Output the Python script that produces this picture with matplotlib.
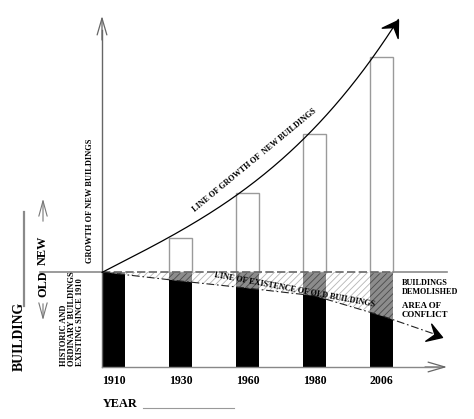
import numpy as np
import matplotlib
matplotlib.use('Agg')
import matplotlib.pyplot as plt
from matplotlib.patches import FancyArrowPatch
from matplotlib.path import Path
from matplotlib.markers import MarkerStyle
from matplotlib.transforms import Affine2D

# values (old stock = 100 units below the zero line)
years = ['1910', '1930', '1960', '1980', '2006']
new_buildings = [0, 36, 83, 145, 226]
demolished = [0, 9.5, 17, 25, 46]
old_total = 100

# points on the "line of growth" and end of the "line of existence"
growth_x = [-0.17, 0.84, 1.84, 2.83, 3.83, 4.25]
growth_y = [0, 36, 81, 142, 218, 268]
exist_start = (-0.17, 0)
exist_end = (4.9, -68)

plt.rcParams['font.family'] = ['Liberation Serif', 'DejaVu Serif']
plt.rcParams['hatch.linewidth'] = 0.6

W, H = 474, 419
fig = plt.figure(figsize=(4.74, 4.19), dpi=100)
ax = fig.add_axes([0, 0, 1, 1])
ax.axis('off')

# pixel -> data mapping, only used for layout
X0, DX, Y0, SY = 113.5, 67.0, 272.0, 0.95
ax.set_xlim(-X0 / DX, (W - X0) / DX)
ax.set_ylim((Y0 - H) / SY, Y0 / SY)


def P(xp, yp):
    return (xp - X0) / DX, (Y0 - yp) / SY


# barbed black arrowhead, tip at the origin
barb = Path([(0, 0), (-1.0, 0.62), (-0.55, 0), (-1.0, -0.62), (0, 0)],
            [Path.MOVETO, Path.LINETO, Path.LINETO, Path.LINETO, Path.CLOSEPOLY])


def head(x0, y0, x1, y1, size=22):
    a, b = ax.transData.transform([(x0, y0), (x1, y1)])
    ang = np.degrees(np.arctan2(b[1] - a[1], b[0] - a[0]))
    m = MarkerStyle(barb, transform=Affine2D().rotate_deg(ang))
    ax.plot([x1], [y1], marker=m, markersize=size, color='black', zorder=6)


pos = np.arange(len(years))
bw = 0.343
grey = '#8a8a8a'

# line of existence of old buildings
line_x = np.r_[exist_start[0], pos[1:], exist_end[0]]
line_y = np.r_[exist_start[1], -np.array(demolished[1:]), exist_end[1]]

# area of conflict (light hatch between bars)
xs = np.r_[line_x[:-1], pos[-1] + bw / 2]
ys = np.interp(xs, line_x, line_y)
ax.fill(np.r_[xs, xs[::-1]], np.r_[ys, np.zeros_like(ys)], facecolor='white',
        edgecolor='#b5b5b5', hatch='/////', lw=0, zorder=1)

# old buildings: black remaining part, dark hatched demolished part
for p in pos:
    bx = np.array([p - bw / 2, p, p + bw / 2])
    by = np.interp(bx, line_x, line_y)
    ax.fill(np.r_[bx, bx[::-1]], np.r_[by, np.zeros(3)], facecolor='#8c8c8c',
            edgecolor='#4a4a4a', hatch='/////', lw=0, zorder=2)
    ax.fill(np.r_[bx, bx[::-1]], np.r_[by, np.full(3, -old_total)],
            color='black', lw=0, zorder=2)

# new buildings
ax.bar(pos[1:], new_buildings[1:], bw, color='white', edgecolor='#9a9a9a',
       lw=1, zorder=2)

# zero line: solid outside, dashed over the bars
xl = P(40, 0)[0]
xr = P(447, 0)[0]
xa = P(102, 0)[0]
xb = pos[-1] + bw / 2
ax.plot([xl, xa], [0, 0], color=grey, lw=1.2, zorder=3)
ax.plot([xb, xr], [0, 0], color=grey, lw=1.2, zorder=3)
ax.plot([xa, xb], [0, 0], color='#666666', lw=1.2, dashes=(5, 2), zorder=3)

ax.plot(line_x, line_y, color='#222222', lw=0.8, ls=(0, (7, 2.5, 1.5, 2.5)), zorder=4)
head(line_x[-2], line_y[-2], line_x[-1], line_y[-1], size=21)

# line of growth of new buildings
coef = np.polyfit(growth_x, growth_y, 3)
gx = np.linspace(growth_x[0], growth_x[-1], 200)
gy = np.polyval(coef, gx)
ax.plot(gx, gy, color='black', lw=0.9, zorder=4)
head(gx[-6], gy[-6], gx[-1], gy[-1], size=22)

# axes with open arrowheads
open_head = '->,head_length=1.2,head_width=0.35'
yb = -old_total
ax.plot([xa, xa], [yb, P(0, 30)[1]], color='#666666', lw=1, zorder=3)
ax.add_patch(FancyArrowPatch(P(102, 40), P(102, 16), arrowstyle=open_head,
                             mutation_scale=10, color='#666666', lw=0.9,
                             shrinkA=0, shrinkB=0))
ax.plot([xa, P(440, 0)[0]], [yb, yb], color='#888888', lw=1, zorder=3)
ax.add_patch(FancyArrowPatch(P(425, 367), P(447, 367), arrowstyle=open_head,
                             mutation_scale=10, color='#666666', lw=0.9,
                             shrinkA=0, shrinkB=0))

# left labels
bold = dict(fontweight='bold', color='black')
ax.text(*P(19, 336), 'BUILDING', rotation=90, ha='center', va='center',
        fontsize=9.8, **bold)
ax.plot(*zip(P(24, 212), P(24, 306)), color=grey, lw=1.6)
ax.text(*P(43, 250), 'NEW', rotation=90, ha='center', va='center', fontsize=8.8, **bold)
ax.text(*P(43, 284), 'OLD', rotation=90, ha='center', va='center', fontsize=8.8, **bold)
ax.add_patch(FancyArrowPatch(P(43, 224), P(43, 196), arrowstyle='->,head_length=1.1,head_width=0.3',
                             mutation_scale=10, color='#777777', lw=0.8))
ax.add_patch(FancyArrowPatch(P(43, 301), P(43, 323), arrowstyle='->,head_length=1.1,head_width=0.3',
                             mutation_scale=10, color='#777777', lw=0.8))
ax.text(*P(72, 366), 'HISTORIC AND\nORDINARY BUILDINGS\nEXISTING SINCE 1910',
        rotation=90, ha='center', va='bottom', multialignment='left',
        fontsize=6.0, linespacing=1.0, **bold)
ax.text(*P(90, 201), 'GROWTH OF NEW BUILDINGS', rotation=90, ha='center',
        va='center', fontsize=6.0, **bold)

# line captions
ax.text(*P(255, 160), 'LINE OF GROWTH OF  NEW BUILDINGS', rotation=39.5,
        ha='center', va='center', fontsize=5.9, **bold)
ax.text(*P(295, 290), 'LINE OF EXISTENCE OF OLD BUILDINGS', rotation=-10.5,
        ha='center', va='center', fontsize=5.9, **bold, zorder=6)
ax.text(*P(402, 287.5), 'BUILDINGS\nDEMOLISHED', ha='left', va='center',
        fontsize=5.9, linespacing=1.1, **bold)
ax.text(*P(402, 310.5), 'AREA OF\nCONFLICT', ha='left', va='center',
        fontsize=6.4, linespacing=1.05, **bold)

# year labels
for p, yr in zip(pos, years):
    ax.text(p, P(0, 381)[1], yr, ha='center', va='center', fontsize=8.5, **bold)
ax.text(*P(103, 404), 'YEAR', ha='left', va='center', fontsize=8.8, **bold)
ax.plot(*zip(P(143, 408), P(234, 408)), color='#999999', lw=0.8)

fig.savefig('out.png', dpi=100)
